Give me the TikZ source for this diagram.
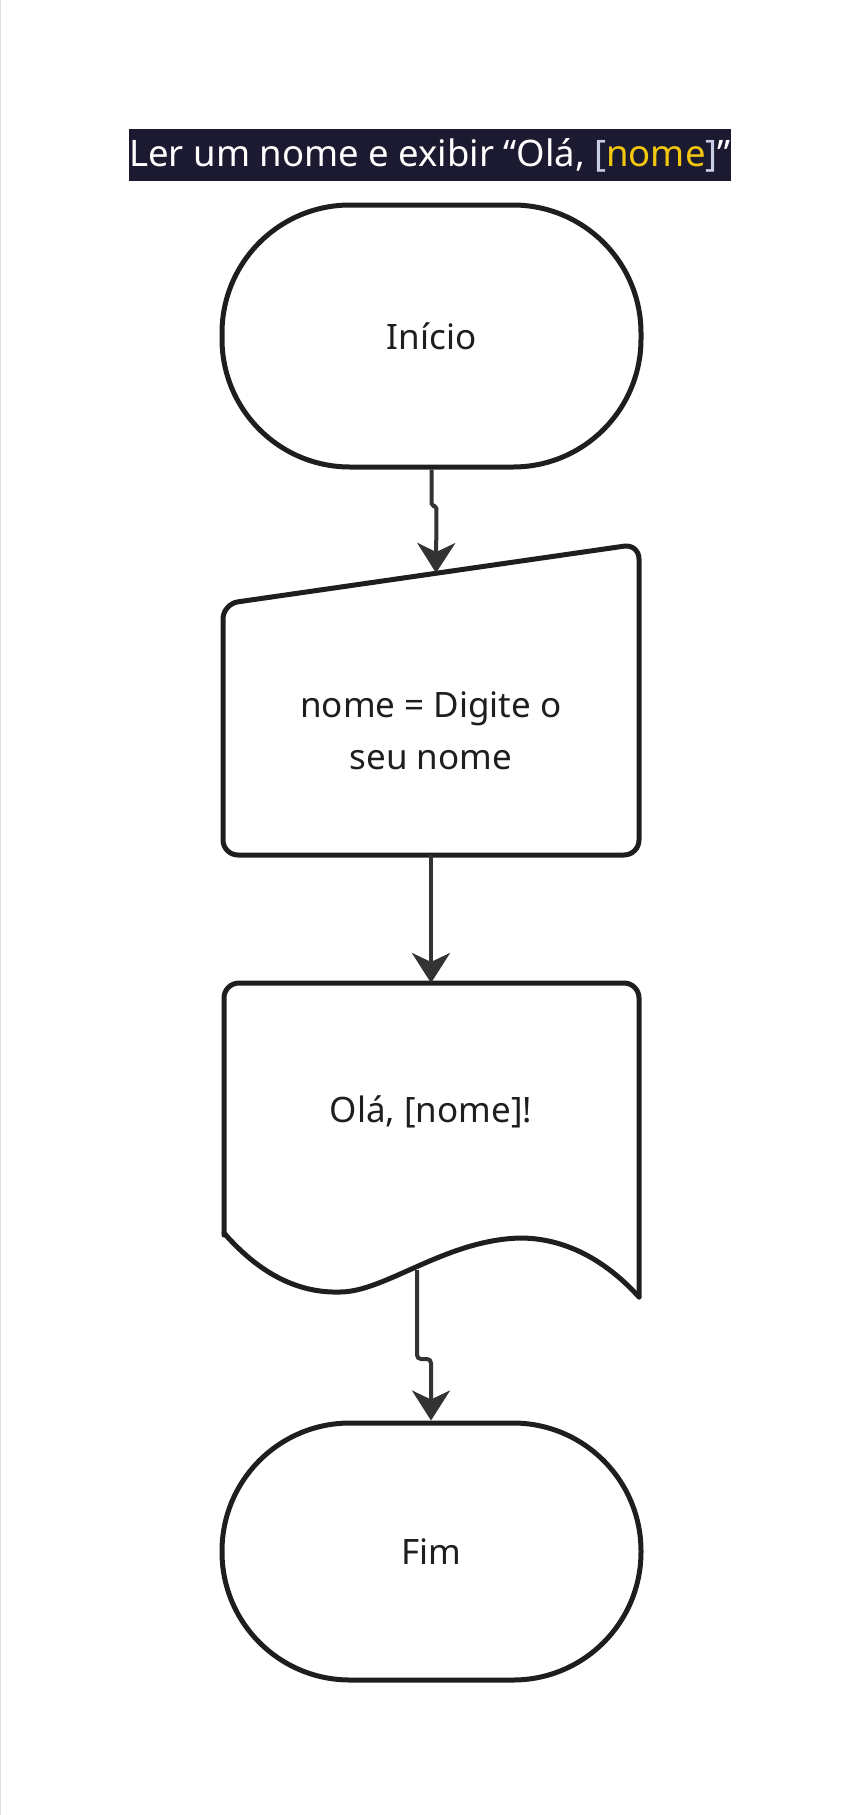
\documentclass[tikz,border=0pt]{standalone}
\usepackage{fontspec}
\setmainfont{Noto Sans}
\usetikzlibrary{arrows.meta,positioning}
\definecolor{titlebg}{HTML}{1B1A30}
\definecolor{brk}{HTML}{C8CEE6}
\definecolor{gold}{HTML}{F4C70F}
\definecolor{ink}{HTML}{1E1E1E}
\definecolor{wire}{HTML}{333333}

\begin{document}
\begin{tikzpicture}[x = 1pt, y = -1pt]
\useasboundingbox (0, 0) rectangle (860, 1815);
\draw[very thin, color = gray!25] (0.5, 0) -- (0.5, 1815);
\tikzstyle{term} = [draw = ink, line width = 5pt, rectangle, rounded corners = 128pt,
  minimum width = 419pt, text = ink, font = \fontsize{35}{50}\selectfont];
\tikzstyle{txt} = [align = center, text = ink, font = \fontsize{35}{52}\selectfont];
\tikzstyle{outline} = [draw = ink, line width = 5pt, rounded corners = 15pt, line cap = round];
\tikzstyle{line} = [draw = wire, line width = 4pt, rounded corners = 4pt,
  -{Stealth[length = 30pt, width = 38pt, inset = 9pt]}];
\node [fill = titlebg, minimum width = 600pt, minimum height = 52pt, inner sep = 0pt,
  text = white, font = \fontsize{36.5}{42}\selectfont] at (430, 155) (title)
  {Ler um nome e exibir “Olá, {\color{brk}[}{\color{gold}nome}{\color{brk}]}”};
\node [term, minimum height = 262pt] at (431.5, 336) (start) {Início};
\draw [outline] (223, 604) -- (639, 544) -- (639, 855) -- (223, 855) -- cycle;
\node [txt] at (431, 731) (input) {nome = Digite o\\seu nome};
\coordinate (intop) at (436, 573);
\coordinate (inbot) at (431, 855);
\draw [outline] (224, 1235) -- (224, 983) -- (639, 983) -- (639, 1297);
\draw [outline, rounded corners = 0pt] (224, 1233) .. controls (265, 1280) and (305, 1293) .. (340, 1292)
  .. controls (385, 1292) and (445, 1240) .. (520, 1238)
  .. controls (570, 1238) and (610, 1265) .. (639, 1297);
\node [txt] at (431, 1112) (output) {Olá, [nome]!};
\coordinate (outtop) at (431, 983);
\coordinate (outbot) at (417, 1270);
\node [term, minimum height = 257pt] at (431.5, 1551.5) (stop) {Fim};
\path [line, rounded corners = 2pt] (start.south) -- ++(0, 36) -- ++(5, 1) -- (intop);
\path [line] (inbot) -- (outtop);
\path [line] (outbot) -- ++(0, 89) -- ++(14, 0) -- (stop.north -| 431, 0);
\end{tikzpicture}
\end{document}
